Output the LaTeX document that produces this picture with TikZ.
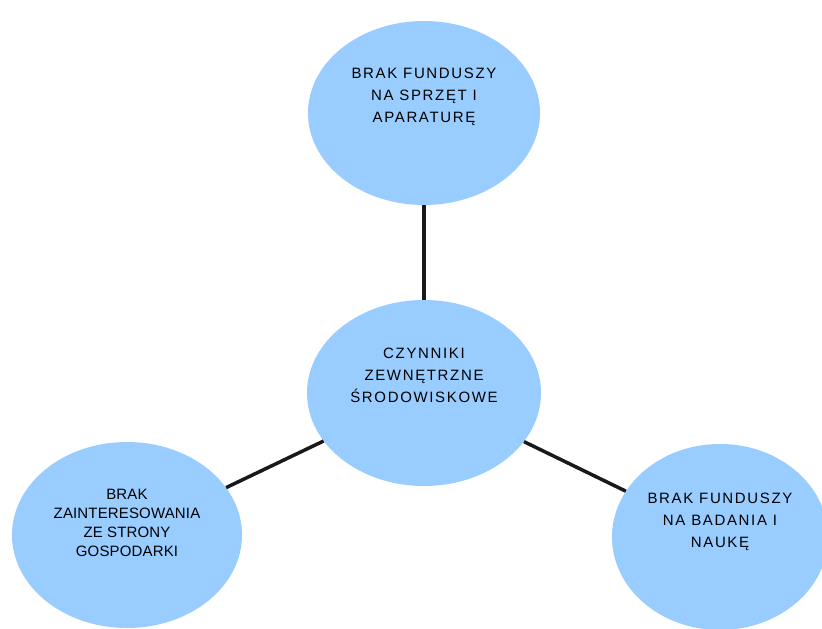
\documentclass[tikz,border=0pt]{standalone}
\usepackage{fontspec}
\setmainfont{Liberation Sans}
\newfontfamily\wide[LetterSpace=11]{Liberation Sans}
\newfontfamily\narrow[LetterSpace=1]{Liberation Sans}
\usetikzlibrary{shapes.geometric}

\tikzset{
	blob/.style={ellipse, fill={rgb,255:red,153;green,204;blue,255}, align=center, inner sep=0pt},
	link/.style={line width=3.5pt, black!90}
}

\begin{document}
\begin{tikzpicture}[x=1pt,y=-1pt]

		\clip[use as bounding box] (0,0) rectangle (822,629);
		\fill[white] (0,0) rectangle (822,629);

		\node[blob, minimum width=232, minimum height=184, font=\wide\fontsize{15}{22}\selectfont] (sprzet) at (424,113) {BRAK FUNDUSZY\\NA SPRZĘT I\\APARATURĘ\\[14pt]};
		\node[blob, minimum width=234, minimum height=186, font=\wide\fontsize{15}{22}\selectfont] (czynniki) at (424,393) {CZYNNIKI\\ZEWNĘTRZNE\\ŚRODOWISKOWE\\[14pt]};
		\node[blob, minimum width=230, minimum height=186, font=\narrow\fontsize{15}{19}\selectfont] (gosp) at (127,535) {BRAK\\ZAINTERESOWANIA\\ZE STRONY\\GOSPODARKI\\[6pt]};
		\node[blob, minimum width=216, minimum height=186, font=\wide\fontsize{15}{22}\selectfont] (nauka) at (720,537) {BRAK FUNDUSZY\\NA BADANIA I\\NAUKĘ\\[12pt]};

		\draw[link] (czynniki) -- (sprzet);
		\draw[link] (czynniki) -- (gosp);
		\draw[link] (czynniki) -- (nauka);

	\end{tikzpicture}
\end{document}
